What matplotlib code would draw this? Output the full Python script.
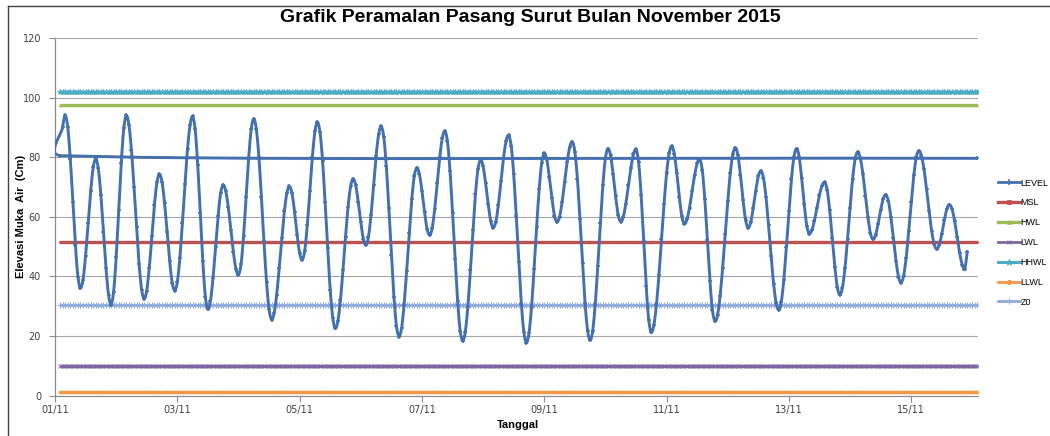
import numpy as np
import matplotlib
matplotlib.use("Agg")
import matplotlib.pyplot as plt
from matplotlib.lines import Line2D

# ---------------- data ----------------
title = "Grafik Peramalan Pasang Surut Bulan November 2015"
x_label = "Tanggal"
y_label = "Elevasi Muka  Air  (Cm)"
x_tick_hours = [0, 48, 96, 144, 192, 240, 288, 336]
x_tick_labels = ["01/11", "03/11", "05/11", "07/11", "09/11", "11/11", "13/11", "15/11"]
y_ticks = [0, 20, 40, 60, 80, 100, 120]

# hourly LEVEL values (cm), starting 01/11 02:00
level_first_hour = 2
level_values = [
    80.5, 90.0, 94.0,
    90.1, 79.5, 65.0, 50.5, 39.9, 36.0,
    38.9, 46.9, 57.8, 68.6, 76.6, 79.5,
    76.2, 67.3, 55.0, 42.8, 33.8, 30.5,
    34.8, 46.4, 62.3, 78.1, 89.7, 94.0,
    90.9, 82.4, 70.0, 56.4, 44.0, 35.5, 32.4,
    35.2, 42.9, 53.4, 63.8, 71.5, 74.3,
    71.7, 64.5, 54.8, 45.0, 37.8, 35.2,
    38.1, 46.2, 58.0, 70.9, 82.7, 90.8, 93.7,
    89.4, 77.5, 61.3, 45.1, 33.2, 28.9,
    31.7, 39.4, 49.8, 60.3, 67.9, 70.7,
    68.7, 63.2, 55.6, 48.1, 42.5, 40.5,
    44.0, 53.6, 66.7, 79.8, 89.4, 92.9,
    89.5, 80.2, 66.7, 51.7, 38.2, 28.9, 25.5,
    27.7, 33.9, 42.9, 52.8, 61.8, 68.0, 70.2,
    67.9, 61.7, 54.0, 47.8, 45.5,
    48.6, 57.1, 68.7, 80.2, 88.7, 91.8,
    88.3, 78.8, 64.8, 49.5, 35.5, 26.0, 22.5,
    25.0, 31.9, 42.0, 53.2, 63.3, 70.2, 72.7,
    70.6, 65.0, 58.2, 52.6, 50.5,
    53.2, 60.5, 70.5, 80.4, 87.7, 90.4,
    86.9, 77.1, 62.9, 47.3, 33.1, 23.3, 19.8,
    22.6, 30.5, 41.9, 54.4, 65.8, 73.7, 76.5,
    74.3, 68.7, 61.6, 56.0, 53.8,
    56.1, 62.6, 71.3, 80.1, 86.5, 88.8,
    85.3, 75.5, 61.4, 45.7, 31.6, 21.8, 18.3,
    21.3, 29.7, 42.0, 55.4, 67.7, 76.1, 79.1,
    76.9, 71.2, 64.2, 58.5, 56.3,
    58.4, 64.1, 71.9, 79.6, 85.3, 87.4,
    83.9, 74.3, 60.3, 44.8, 30.8, 21.2, 17.7,
    20.9, 29.7, 42.4, 56.6, 69.3, 78.1, 81.3,
    79.1, 73.3, 66.2, 60.4, 58.2,
    60.0, 65.0, 71.7, 78.5, 83.4, 85.2,
    81.9, 72.7, 59.3, 44.4, 31.0, 21.8, 18.5,
    21.7, 30.6, 43.6, 57.8, 70.8, 79.7, 82.9,
    80.6, 74.4, 66.8, 60.6, 58.3,
    59.9, 64.4, 70.5, 76.5, 81.0, 82.6,
    78.5, 67.3, 51.9, 36.6, 25.3, 21.2,
    23.6, 30.3, 40.5, 52.5, 64.4, 74.6, 81.3, 83.7,
    81.2, 74.7, 66.6, 60.1, 57.6,
    59.1, 63.1, 68.5, 74.0, 77.9, 79.4,
    75.7, 65.8, 52.2, 38.5, 28.6, 24.9,
    27.1, 33.4, 42.9, 54.1, 65.2, 74.7, 81.0, 83.2,
    80.6, 73.9, 65.6, 58.9, 56.3,
    58.1, 62.9, 68.8, 73.6, 75.4,
    73.1, 66.6, 57.2, 46.9, 37.5, 31.0, 28.7,
    31.4, 38.9, 49.8, 61.8, 72.7, 80.2, 82.9,
    80.2, 73.0, 64.2, 57.0, 54.3,
    55.5, 58.6, 63.0, 67.3, 70.4, 71.6,
    69.1, 62.2, 52.7, 43.3, 36.3, 33.8,
    36.2, 42.8, 52.5, 63.1, 72.8, 79.4, 81.8,
    79.8, 74.5, 67.1, 59.8, 54.4, 52.4,
    53.8, 57.6, 62.2, 66.0, 67.4,
    65.4, 60.0, 52.7, 45.3, 39.9, 37.9,
    40.1, 46.2, 55.1, 65.0, 73.9, 80.0, 82.2,
    80.5, 76.0, 69.3, 62.0, 55.3, 50.8, 49.1,
    50.5, 54.3, 58.9, 62.7, 64.1,
    62.6, 58.7, 53.3, 47.8, 43.9, 42.4,
    48.3,
]
# stray first point of the LEVEL series (plotted at the far right end)
level_extra_hour = 362
level_extra_value = 79.6

# constant reference levels (cm)
series_names = ["MSL", "HWL", "LWL", "HHWL", "LLWL", "Z0"]
series_levels = [51.5, 97.6, 9.9, 101.9, 1.3, 30.5]
const_first_hour = 2
const_last_hour = 362

# ---------------- style ----------------
colors = {
    "LEVEL": "#4470B0",
    "MSL": "#C0504D",
    "HWL": "#9BBB59",
    "LWL": "#8064A2",
    "HHWL": "#4BACC6",
    "LLWL": "#F79646",
    "Z0": "#8FAADC",
}
styles = {
    "MSL": dict(lw=2.4, marker="s", ms=1.5, mew=0.5),
    "HWL": dict(lw=2.4, marker="^", ms=1.8, mew=0.5),
    "LWL": dict(lw=2.0, marker="x", ms=2.2, mew=0.7),
    "HHWL": dict(lw=2.2, marker="*", ms=4.0, mew=0.6),
    "LLWL": dict(lw=2.0, marker="o", ms=2.2, mew=0.5),
    "Z0": dict(lw=2.0, marker="+", ms=4.0, mew=0.8),
}
legend_order = ["LEVEL", "MSL", "HWL", "LWL", "HHWL", "LLWL", "Z0"]

W, H = 1050, 436
fig = plt.figure(figsize=(W / 100, H / 100), dpi=100)
fig.patch.set_facecolor("white")

ax_left, ax_right, ax_top, ax_bottom = 55, 978, 38, 395.5
ax = fig.add_axes([ax_left / W, 1 - ax_bottom / H, (ax_right - ax_left) / W, (ax_bottom - ax_top) / H])
xmax = 362.2
ax.set_xlim(0, xmax)
ax.set_ylim(0, 120)

px_per_hour = (ax_right - ax_left) / xmax
px_per_unit = (ax_bottom - ax_top) / 120.0


def smooth_path(xs, ys, n=8):
    """Bezier smoothing of a polyline (like a spreadsheet 'smoothed line')."""
    P = np.column_stack([np.asarray(xs, float) * px_per_hour, np.asarray(ys, float) * px_per_unit])
    N = len(P)
    T = np.zeros_like(P)
    T[1:-1] = (P[2:] - P[:-2]) / 2.0
    T[0] = P[1] - P[0]
    T[-1] = P[-1] - P[-2]
    t = np.linspace(0, 1, n)[:, None]
    out = []
    for i in range(N - 1):
        a, b = P[i], P[i + 1]
        L = np.linalg.norm(b - a)

        def ctrl(Tv):
            m = np.linalg.norm(Tv)
            if m == 0:
                return Tv * 0
            return Tv / m * min(m / 3.0, L * 0.5)

        c1 = a + ctrl(T[i])
        c2 = b - ctrl(T[i + 1])
        seg = (1 - t) ** 3 * a + 3 * (1 - t) ** 2 * t * c1 + 3 * (1 - t) * t ** 2 * c2 + t ** 3 * b
        out.append(seg if i == 0 else seg[1:])
    arr = np.vstack(out)
    return arr[:, 0] / px_per_hour, arr[:, 1] / px_per_unit


# gridlines
for yv in y_ticks[1:]:
    ax.axhline(yv, color="#A6A6A6", lw=0.8, zorder=0)

# constant lines
const_hours = np.arange(const_first_hour, const_last_hour + 1)
for name, lvl in zip(series_names, series_levels):
    st = styles[name]
    vals = np.full(len(const_hours), lvl)
    ax.plot(const_hours, vals, color=colors[name], lw=st["lw"], marker=st["marker"],
            ms=st["ms"], mew=st["mew"], mec=colors[name], mfc=colors[name], zorder=2,
            solid_capstyle="butt")

# LEVEL series
lv = np.asarray(level_values)
lh = level_first_hour + np.arange(len(lv))
xs = np.concatenate([[level_extra_hour], lh])
ys = np.concatenate([[level_extra_value], lv])
sx, sy = smooth_path(xs, ys)
ax.plot(sx, sy, color=colors["LEVEL"], lw=2.1, zorder=3, solid_capstyle="round")
ax.plot(xs, ys, ls="none", marker="+", ms=3.5, mew=1.1, color=colors["LEVEL"], zorder=4)

# axes styling
for s in ["top", "right"]:
    ax.spines[s].set_visible(False)
for s in ["left", "bottom"]:
    ax.spines[s].set_color("#8C8C8C")
    ax.spines[s].set_linewidth(0.9)
ax.set_yticks(y_ticks)
ax.set_yticklabels([str(v) for v in y_ticks])
ax.set_xticks(x_tick_hours)
ax.set_xticklabels(x_tick_labels)
ax.tick_params(axis="both", direction="out", length=4, width=0.8, color="#8C8C8C",
               labelsize=7, labelcolor="#404040")
ax.tick_params(axis="y", pad=6)
ax.tick_params(axis="x", pad=3)
ax.set_facecolor("white")

# titles
fig.text(530 / W, 1 - 18 / H, title, ha="center", va="center", fontsize=14,
         fontweight="bold", family="Liberation Sans", color="black")
fig.text(518 / W, 1 - 425 / H, x_label, ha="center", va="center", fontsize=8,
         fontweight="bold", family="Liberation Sans", color="black")
fig.text(21 / W, 1 - 216.5 / H, y_label, ha="center", va="center", fontsize=8,
         fontweight="bold", family="Liberation Sans", color="black", rotation=90)

# legend
handles = []
for name in legend_order:
    if name == "LEVEL":
        handles.append(Line2D([], [], color=colors[name], lw=2.0, marker="+", ms=4, mew=1.1))
    else:
        st = styles[name]
        handles.append(Line2D([], [], color=colors[name], lw=st["lw"], marker=st["marker"],
                              ms=st["ms"] + 1, mew=st["mew"], mec=colors[name], mfc=colors[name]))
fig.legend(handles, legend_order, loc="upper left", bbox_to_anchor=(998 / W, 1 - 178.5 / H),
           frameon=False, handlelength=2.4, handletextpad=0.1,
           labelspacing=1.2, borderpad=0, borderaxespad=0, markerscale=1.0,
           prop={"family": "Liberation Sans", "size": 6.5})

# outer chart border (left and top edges are visible in the reference)
fig.add_artist(Line2D([8 / W, 8 / W], [0, 1 - 6 / H], transform=fig.transFigure,
                      color="#404040", lw=1.0))
fig.add_artist(Line2D([8 / W, 1], [1 - 6 / H, 1 - 6 / H], transform=fig.transFigure,
                      color="#404040", lw=1.0))

fig.savefig("out.png", dpi=100)
